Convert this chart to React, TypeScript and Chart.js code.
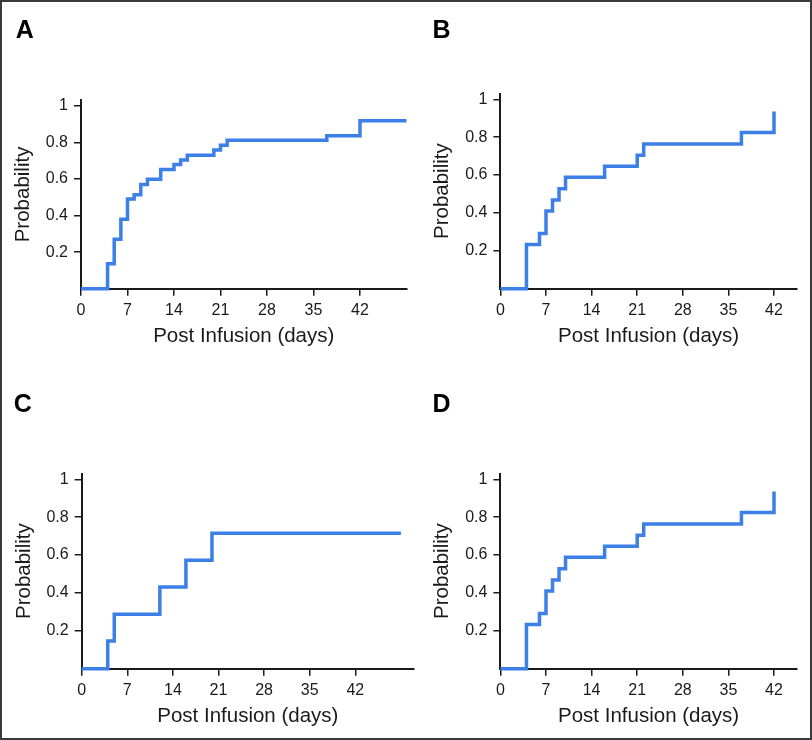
import React, { useEffect, useRef } from 'react';
import { Chart, registerables } from 'chart.js';

Chart.register(...registerables);

// ---------- data ----------
const daysA = [0, 4, 5, 6, 7, 8, 9, 10, 12, 14, 15, 16, 20, 21, 22, 37, 42, 49];
const probA = [0, 0.137, 0.27, 0.38, 0.49, 0.514, 0.57, 0.598, 0.652, 0.678, 0.703, 0.729, 0.758, 0.784, 0.811, 0.836, 0.918, 0.918];

const daysB = [0, 4, 6, 7, 8, 9, 10, 16, 21, 22, 37, 42];
const probB = [0, 0.234, 0.292, 0.41, 0.468, 0.528, 0.588, 0.646, 0.704, 0.764, 0.824, 0.935];

const daysC = [0, 4, 5, 12, 16, 20, 49];
const probC = [0, 0.146, 0.287, 0.431, 0.572, 0.715, 0.715];

const daysD = [0, 4, 6, 7, 8, 9, 10, 16, 21, 22, 37, 42];
const probD = [0, 0.234, 0.292, 0.41, 0.468, 0.528, 0.588, 0.646, 0.704, 0.764, 0.824, 0.935];

const xTickValues = [0, 7, 14, 21, 28, 35, 42];
const yTickValues = [0.2, 0.4, 0.6, 0.8, 1];
const yTickLabels = ['0.2', '0.4', '0.6', '0.8', '1'];
const panelLetters = ['A', 'B', 'C', 'D'];
const xAxisTitle = 'Post Infusion (days)';
const yAxisTitle = 'Probability';
const xMaxes = [49, 45.5, 51, 45.5];
const yMax = 1.03;

const panelData = [
  { days: daysA, prob: probA },
  { days: daysB, prob: probB },
  { days: daysC, prob: probC },
  { days: daysD, prob: probD },
];

// ---------- layout (page pixels) ----------
const layouts = [
  { cx: 0, cy: 0, cw: 412, ch: 370, L: 81, R: 406.5, T: 100.2, B: 288.7, yTitleX: 23.8, xTitleY: 336.6, lx: 15.7, ly: 16.5 },
  { cx: 406, cy: 0, cw: 406, ch: 370, L: 500.4, R: 796.8, T: 93.6, B: 288.7, yTitleX: 442.6, xTitleY: 336.6, lx: 432.5, ly: 16.5 },
  { cx: 0, cy: 370, cw: 420, ch: 370, L: 81.7, R: 413.9, T: 473.6, B: 668.7, yTitleX: 24.2, xTitleY: 716.6, lx: 13.8, ly: 390.5 },
  { cx: 406, cy: 370, cw: 406, ch: 370, L: 500.4, R: 796.8, T: 473.6, B: 668.7, yTitleX: 442.3, xTitleY: 716.6, lx: 432.5, ly: 390.5 },
];

const FONT = "'Liberation Sans', Arial, Helvetica, sans-serif";
const LINE_BLUE = '#3c7fe6';
const AXIS = '#1a1a1a';
const TITLE_SIZE = 20.5;
const TICK_SIZE = 16;

function Panel({ idx }: { idx: number }) {
  const ref = useRef<HTMLCanvasElement | null>(null);
  const lay = layouts[idx];
  const d = panelData[idx];

  useEffect(() => {
    if (!ref.current) return;
    const halfLH = (TITLE_SIZE * 1.2) / 2;
    const yW = lay.L - lay.cx;
    const padTop = lay.T - lay.cy;
    const padRight = lay.cx + lay.cw - lay.R;
    const scaleBottom = lay.xTitleY + halfLH; // page coords
    const xH = scaleBottom - lay.B;
    const padBottom = lay.cy + lay.ch - scaleBottom;
    const yTitlePad = lay.yTitleX - lay.cx - halfLH;

    const chart = new Chart(ref.current, {
      type: 'line',
      data: {
        datasets: [
          {
            data: d.days.map((x, i) => ({ x, y: d.prob[i] })),
            stepped: 'before',
            borderColor: LINE_BLUE,
            borderWidth: 3.5,
            pointRadius: 0,
            fill: false,
            clip: false as any,
            borderJoinStyle: 'miter',
            borderCapStyle: 'butt',
          } as any,
        ],
      },
      options: {
        animation: false,
        responsive: false,
        maintainAspectRatio: false,
        devicePixelRatio: 1,
        layout: { padding: { left: 0, top: padTop, right: padRight, bottom: padBottom } },
        plugins: { legend: { display: false }, tooltip: { enabled: false }, title: { display: false } },
        scales: {
          x: {
            type: 'linear',
            min: 0,
            max: xMaxes[idx],
            afterBuildTicks: (s: any) => {
              s.ticks = xTickValues.map((v) => ({ value: v }));
            },
            afterFit: (s: any) => {
              s.height = xH;
            },
            ticks: {
              autoSkip: false,
              maxRotation: 0,
              padding: 5,
              color: AXIS,
              font: { family: FONT, size: TICK_SIZE },
              callback: (v: any) => String(v),
            },
            grid: { display: true, drawOnChartArea: false, drawTicks: true, tickLength: 7, color: AXIS, lineWidth: 1.5 },
            border: { display: true, color: AXIS, width: 2 },
            title: {
              display: true,
              text: xAxisTitle,
              color: AXIS,
              font: { family: FONT, size: TITLE_SIZE },
              padding: { top: 0, bottom: 0 },
            },
          },
          y: {
            type: 'linear',
            min: 0,
            max: yMax,
            afterBuildTicks: (s: any) => {
              s.ticks = yTickValues.map((v) => ({ value: v }));
            },
            afterFit: (s: any) => {
              s.width = yW;
            },
            ticks: {
              autoSkip: false,
              padding: 6,
              color: AXIS,
              font: { family: FONT, size: TICK_SIZE },
              callback: (v: any) => {
                const k = yTickValues.indexOf(v);
                return k >= 0 ? yTickLabels[k] : '';
              },
            },
            grid: { display: true, drawOnChartArea: false, drawTicks: true, tickLength: 7, color: AXIS, lineWidth: 1.5 },
            border: { display: true, color: AXIS, width: 2 },
            title: {
              display: true,
              text: yAxisTitle,
              color: AXIS,
              font: { family: FONT, size: TITLE_SIZE },
              padding: { top: yTitlePad, bottom: 0 },
            },
          },
        },
      },
    });
    return () => chart.destroy();
  }, [idx]);

  return (
    <>
      <canvas
        ref={ref}
        width={lay.cw}
        height={lay.ch}
        style={{ position: 'absolute', left: lay.cx, top: lay.cy, width: lay.cw, height: lay.ch }}
      />
      <div
        style={{
          position: 'absolute',
          left: lay.lx,
          top: lay.ly,
          fontFamily: FONT,
          fontWeight: 'bold',
          fontSize: 25,
          lineHeight: '25px',
          color: '#000',
        }}
      >
        {panelLetters[idx]}
      </div>
    </>
  );
}

export default function App() {
  return (
    <div
      style={{
        position: 'absolute',
        left: 0,
        top: 0,
        width: 812,
        height: 740,
        background: '#fff',
        overflow: 'hidden',
      }}
    >
      {[0, 1, 2, 3].map((i) => (
        <Panel key={i} idx={i} />
      ))}
      <div
        style={{
          position: 'absolute',
          left: 0,
          top: 0,
          width: 812,
          height: 740,
          boxSizing: 'border-box',
          border: '2px solid #3a3a3a',
          pointerEvents: 'none',
        }}
      />
    </div>
  );
}
